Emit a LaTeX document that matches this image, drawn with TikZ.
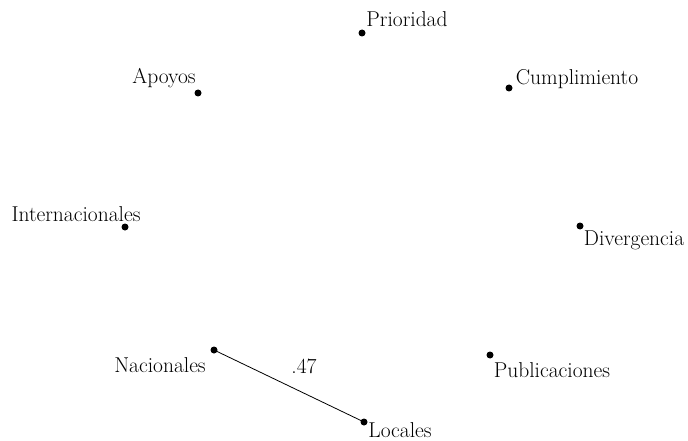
\documentclass[tikz,border=0pt]{standalone}
\begin{document}
\begin{tikzpicture}[x=1pt,y=-1pt,
  dot/.style={circle,fill=black,inner sep=0pt,minimum size=7pt},
  lbl/.style={inner sep=0pt,font=\fontsize{21.5}{24}\selectfont}]
\useasboundingbox (0,0) rectangle (688,441);
\node[dot] (prio) at (362,33) {};
\node[dot] (apo) at (198,93) {};
\node[dot] (cum) at (509,88) {};
\node[dot] (inter) at (125,227) {};
\node[dot] (div) at (580,226) {};
\node[dot] (nac) at (214,350) {};
\node[dot] (pub) at (490,355) {};
\node[dot] (loc) at (364,422) {};
\node[lbl] (lprio) at (407,19) {Prioridad};
\node[lbl] (lapo) at (164,78) {Apoyos};
\node[lbl] (lcum) at (577,79) {Cumplimiento};
\node[lbl] (linter) at (76,214) {Internacionales};
\node[lbl] (ldiv) at (634,240) {Divergencia};
\node[lbl] (lnac) at (160,365) {Nacionales};
\node[lbl] (lpub) at (552,370) {Publicaciones};
\node[lbl] (lloc) at (400,430) {Locales};
\draw[line width=0.8pt] (nac.center) -- node[lbl,pos=0.6,above=19pt] (w) {.47} (loc.center);
\end{tikzpicture}
\end{document}
